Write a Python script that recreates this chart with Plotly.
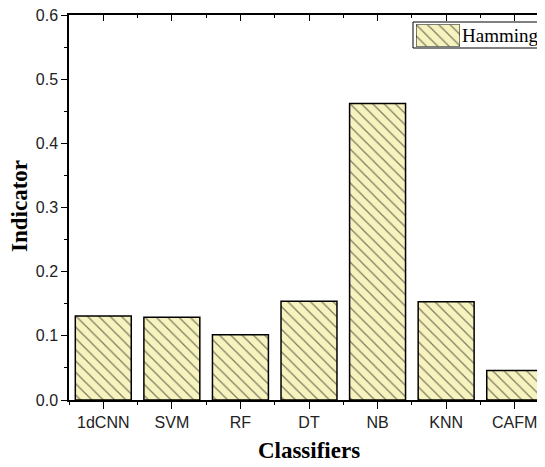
import plotly.graph_objects as go

categories = ["1dCNN", "SVM", "RF", "DT", "NB", "KNN", "CAFM"]
hamming = [0.131, 0.129, 0.1015, 0.154, 0.462, 0.153, 0.046]
series_name = "Hamming"
y_ticks = [0.0, 0.1, 0.2, 0.3, 0.4, 0.5, 0.6]
x_title = "Classifiers"
y_title = "Indicator"

FILL = "#F7F3BF"
n = len(categories)
xr = [-0.5, n - 0.5]
centers = list(range(n))
bounds = [i - 0.5 for i in range(n + 1)]

pattern = dict(shape="\\", fgcolor="black", bgcolor=FILL, size=8, solidity=0.15)

fig = go.Figure()
fig.add_trace(go.Bar(
    x=categories, y=hamming, name=series_name, width=0.816,
    marker=dict(color=FILL, line=dict(color="black", width=1.5), pattern=pattern),
    showlegend=False,
))

# helper axes for minor ticks / top ticks
fig.add_trace(go.Scatter(x=[0], y=[0], xaxis="x2", mode="markers", marker=dict(opacity=0),
                         showlegend=False, hoverinfo="skip"))
fig.add_trace(go.Scatter(x=[0], y=[0], xaxis="x3", mode="markers", marker=dict(opacity=0),
                         showlegend=False, hoverinfo="skip"))

# legend swatch (custom legend)
fig.add_trace(go.Bar(x=[0], y=[1], width=1, xaxis="x4", yaxis="y4", name=series_name,
                     marker=dict(color=FILL, line=dict(color="black", width=1), pattern=pattern),
                     showlegend=False, hoverinfo="skip"))

LEFT = 61
TOP = 7
PLOT_W = 545 - LEFT - 4
PLOT_H = 467 - 75 - TOP


def py(fig_y):
    return 1 - (fig_y - TOP) / PLOT_H


def px(fig_x):
    return (fig_x - LEFT) / PLOT_W


serif = "Liberation Serif, Times New Roman"
sans = "Liberation Sans, Arial"

fig.update_layout(
    width=545, height=467,
    margin=dict(l=LEFT, r=4, t=TOP, b=75, autoexpand=False),
    plot_bgcolor="white", paper_bgcolor="white",
    xaxis=dict(type="category", range=xr, automargin=False, showline=True, linecolor="black", linewidth=1.5,
               ticks="outside", ticklen=7, tickcolor="black", tickwidth=1,
               tickfont=dict(family=sans, size=16, color="#222"),
               title=dict(text=f"<b>{x_title}</b>", font=dict(family=serif, size=23, color="black"),
                          standoff=12),
               showgrid=False, zeroline=False),
    xaxis2=dict(overlaying="x", anchor="y", side="bottom", range=xr, tickmode="array", automargin=False,
                tickvals=bounds, ticks="outside", ticklen=4, tickcolor="black",
                showticklabels=False, showline=False, showgrid=False, zeroline=False),
    xaxis3=dict(overlaying="x", anchor="y", side="top", range=xr, tickmode="array", automargin=False,
                tickvals=centers, ticks="inside", ticklen=6, tickcolor="black",
                minor=dict(tickmode="array", tickvals=bounds, ticks="inside", ticklen=3, tickcolor="black"),
                showticklabels=False, showline=True, linecolor="black", linewidth=1.5,
                showgrid=False, zeroline=False),
    yaxis=dict(range=[0, 0.6], tickmode="array", tickvals=y_ticks, automargin=False,
               ticktext=[f"{v:.1f}" for v in y_ticks], ticklabeloverflow="allow",
               showline=True, linecolor="black", linewidth=1.5,
               ticks="outside", ticklen=6, tickcolor="black",
               minor=dict(dtick=0.05, tick0=0, ticks="outside", ticklen=3, tickcolor="black"),
               tickfont=dict(family=sans, size=16, color="#222"),
               showgrid=False, zeroline=False),
    xaxis4=dict(domain=[px(408), px(452)], anchor="y4", range=[-0.5, 0.5], visible=False, fixedrange=True),
    yaxis4=dict(domain=[py(38.5), py(16.5)], anchor="x4", range=[0, 1], visible=False, fixedrange=True),
    shapes=[dict(type="rect", xref="paper", yref="paper", x0=px(405), x1=px(538), y0=py(40), y1=py(14),
                 line=dict(color="black", width=1), fillcolor="rgba(0,0,0,0)", layer="above")],
    annotations=[
        dict(text=series_name, xref="paper", yref="paper", x=px(452), y=py(27.5),
             xanchor="left", yanchor="middle", showarrow=False,
             font=dict(family=serif, size=19, color="black")),
        dict(text=f"<b>{y_title}</b>", xref="paper", yref="paper", x=px(11), y=py(198),
             xanchor="center", yanchor="middle", textangle=-90, showarrow=False,
             font=dict(family=serif, size=23, color="black")),
    ],
)

fig.write_html("out.html")
